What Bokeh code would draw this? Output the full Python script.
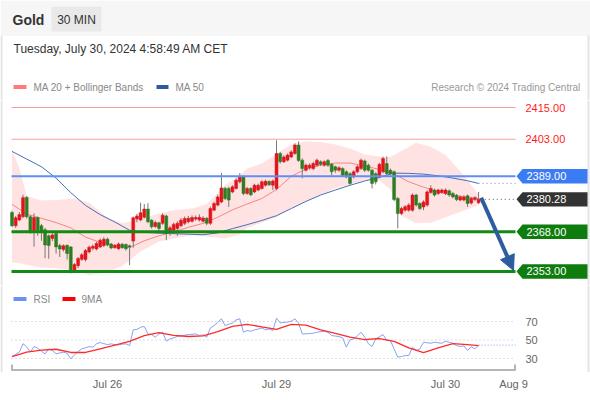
from bokeh.plotting import figure
from bokeh.models import Range1d, FixedTicker, Arrow, NormalHead
from bokeh.layouts import column
from bokeh.embed import file_html
from bokeh.resources import INLINE
from bokeh.core.properties import value

FONT = value("Liberation Sans")

# ---------------- data (30 min candles, Jul 25 -> Jul 30 04:30) ----------------
opens = [2375.3, 2370.3, 2372.5, 2373.7, 2381.0, 2373.7, 2367.8, 2373.4, 2370.3, 2368.8,
         2366.5, 2365.5, 2367.4, 2362.8, 2361.3, 2362.9, 2362.3, 2353.0, 2355.2, 2357.6,
         2357.5, 2360.4, 2361.8, 2361.5, 2362.3, 2362.8, 2365.2, 2363.4, 2362.0, 2361.6,
         2363.3, 2363.2, 2362.7, 2364.5, 2372.8, 2372.5, 2373.5, 2376.6, 2372.4, 2370.0,
         2371.4, 2371.2, 2374.0, 2367.7, 2368.6, 2369.3, 2370.3, 2371.2, 2371.8, 2372.0,
         2372.8, 2372.5, 2372.0, 2373.1, 2371.2, 2376.2, 2378.1, 2379.3, 2384.4, 2384.4,
         2383.1, 2384.4, 2386.9, 2388.8, 2382.5, 2384.4, 2383.1, 2383.8, 2384.4, 2385.6,
         2387.0, 2385.6, 2384.4, 2397.6, 2394.5, 2395.1, 2396.3, 2397.6, 2400.8, 2395.1,
         2391.3, 2392.2, 2391.9, 2393.2, 2394.5, 2393.2, 2395.0, 2393.5, 2392.6, 2391.3,
         2391.9, 2390.7, 2390.0, 2388.8, 2390.7, 2391.9, 2394.8, 2393.2, 2391.3, 2390.0,
         2388.8, 2390.7, 2393.8, 2391.3, 2390.7, 2380.6, 2374.9, 2376.2, 2376.2, 2376.2,
         2381.9, 2378.7, 2377.4, 2378.1, 2382.9, 2383.8, 2382.5, 2382.9, 2382.5, 2383.5,
         2382.5, 2381.8, 2380.0, 2380.0, 2381.6, 2378.9, 2380.2, 2379.0]
highs = [2376.0, 2374.0, 2375.5, 2382.0, 2381.5, 2374.3, 2375.0, 2373.8, 2371.0, 2369.5,
         2367.0, 2367.5, 2367.8, 2363.5, 2363.3, 2363.2, 2362.6, 2356.2, 2358.5, 2360.0,
         2361.5, 2362.8, 2363.2, 2364.2, 2365.5, 2366.0, 2365.8, 2363.8, 2363.4, 2364.0,
         2363.8, 2363.6, 2363.2, 2373.8, 2374.8, 2379.0, 2378.5, 2378.8, 2372.8, 2372.2,
         2371.8, 2375.0, 2374.5, 2370.2, 2371.5, 2372.0, 2373.2, 2373.8, 2374.0, 2374.2,
         2374.2, 2374.6, 2373.9, 2373.6, 2377.5, 2379.4, 2382.0, 2390.3, 2385.0, 2385.0,
         2385.6, 2388.2, 2390.2, 2389.2, 2385.0, 2384.9, 2386.2, 2386.2, 2387.5, 2387.7,
         2387.5, 2387.8, 2402.6, 2398.2, 2396.9, 2397.6, 2398.8, 2401.5, 2402.2, 2395.8,
         2393.8, 2393.9, 2394.5, 2395.7, 2395.0, 2395.0, 2395.5, 2394.0, 2393.0, 2392.8,
         2392.4, 2391.2, 2390.5, 2391.3, 2393.2, 2395.7, 2395.3, 2393.8, 2391.8, 2390.5,
         2394.1, 2396.4, 2396.5, 2391.9, 2391.2, 2381.2, 2377.5, 2378.1, 2378.8, 2382.5,
         2382.4, 2379.2, 2379.9, 2383.7, 2385.6, 2384.3, 2384.3, 2384.4, 2384.4, 2384.0,
         2383.1, 2382.3, 2381.8, 2381.8, 2382.1, 2381.2, 2381.5, 2383.1]
lows = [2369.8, 2369.5, 2372.0, 2373.2, 2373.0, 2367.3, 2362.4, 2366.5, 2364.6, 2358.0,
        2357.8, 2364.5, 2359.8, 2358.5, 2360.5, 2357.5, 2352.3, 2352.4, 2354.3, 2357.0,
        2356.8, 2359.8, 2361.0, 2361.0, 2361.9, 2362.2, 2362.5, 2361.4, 2361.6, 2361.2,
        2361.6, 2360.9, 2355.4, 2362.0, 2371.6, 2372.0, 2373.0, 2371.3, 2369.2, 2369.5,
        2367.6, 2370.6, 2364.8, 2366.5, 2367.2, 2366.5, 2369.8, 2370.5, 2371.2, 2371.5,
        2372.2, 2371.9, 2371.5, 2370.5, 2370.6, 2375.8, 2377.6, 2378.8, 2380.0, 2377.4,
        2382.6, 2384.0, 2386.3, 2381.8, 2382.0, 2381.5, 2382.6, 2383.3, 2384.0, 2385.1,
        2385.3, 2383.8, 2383.7, 2393.8, 2394.0, 2394.6, 2395.8, 2397.1, 2394.4, 2388.2,
        2390.8, 2391.5, 2391.3, 2392.6, 2392.9, 2392.6, 2392.5, 2389.4, 2390.3, 2390.7,
        2388.8, 2388.2, 2385.8, 2388.2, 2390.1, 2391.4, 2390.6, 2390.7, 2384.4, 2385.9,
        2388.2, 2390.1, 2389.4, 2389.4, 2379.6, 2369.3, 2374.3, 2375.6, 2375.6, 2375.6,
        2377.5, 2376.2, 2376.2, 2377.5, 2382.4, 2381.3, 2381.9, 2382.4, 2381.9, 2381.3,
        2380.6, 2379.6, 2379.5, 2379.5, 2377.4, 2378.3, 2379.6, 2378.5]
closes = [2370.3, 2373.3, 2374.5, 2380.9, 2373.7, 2367.8, 2373.4, 2368.6, 2367.9, 2363.0,
          2362.8, 2366.8, 2362.3, 2361.5, 2362.7, 2359.8, 2352.6, 2355.6, 2357.9, 2359.3,
          2360.9, 2362.2, 2362.5, 2363.6, 2364.8, 2365.2, 2363.0, 2361.9, 2362.9, 2363.4,
          2362.0, 2361.6, 2362.3, 2373.3, 2374.0, 2375.2, 2376.6, 2371.8, 2369.9, 2371.5,
          2369.3, 2374.3, 2367.4, 2369.5, 2370.8, 2371.2, 2372.4, 2373.0, 2373.1, 2373.4,
          2373.4, 2373.5, 2373.2, 2371.2, 2376.8, 2378.7, 2381.2, 2384.6, 2380.6, 2380.0,
          2385.0, 2387.5, 2388.8, 2382.5, 2384.4, 2382.0, 2385.6, 2385.6, 2386.9, 2387.1,
          2385.8, 2387.2, 2397.6, 2394.5, 2396.3, 2397.0, 2398.2, 2400.8, 2395.0, 2391.9,
          2393.2, 2393.2, 2393.8, 2395.1, 2393.5, 2394.5, 2393.2, 2390.7, 2391.3, 2392.2,
          2389.4, 2388.8, 2386.3, 2390.7, 2392.6, 2395.1, 2391.3, 2391.3, 2386.3, 2386.9,
          2393.5, 2395.7, 2390.0, 2390.0, 2380.2, 2374.9, 2376.8, 2377.5, 2378.1, 2381.9,
          2378.1, 2376.8, 2379.3, 2383.1, 2384.4, 2381.9, 2383.8, 2383.8, 2383.8, 2381.9,
          2381.2, 2380.2, 2381.2, 2381.2, 2378.7, 2380.6, 2380.9, 2380.28]

ma_idx = [0, 4, 8, 12, 16, 20, 24, 28, 32, 36, 40, 44, 48, 52, 56, 60, 64, 68, 72, 76,
          80, 84, 88, 92, 96, 100, 104, 108, 112, 116, 120, 124, 127]
ma20 = [2378.4, 2374.7, 2373.1, 2371.5, 2369.5, 2366.0, 2364.0, 2362.7, 2362.0, 2364.6,
        2366.5, 2368.0, 2369.7, 2371.2, 2373.5, 2376.3, 2378.5, 2380.6, 2384.0, 2389.0,
        2391.7, 2393.2, 2394.0, 2394.0, 2392.9, 2391.6, 2389.9, 2386.9, 2384.9, 2383.1,
        2381.9, 2381.0, 2380.6]
ma50 = [2398.4, 2395.5, 2392.6, 2388.3, 2382.8, 2378.0, 2374.5, 2371.7, 2368.6, 2367.8,
        2367.5, 2367.3, 2367.1, 2366.9, 2367.6, 2369.2, 2370.7, 2372.3, 2374.1, 2376.8,
        2379.5, 2381.9, 2383.8, 2385.6, 2387.2, 2388.6, 2390.2, 2390.1, 2389.8, 2389.2,
        2388.3, 2387.3, 2386.3]

bb_idx = [0, 2, 4, 8, 12, 17, 21, 26, 30, 35, 40, 44, 49, 53, 58, 62, 64, 68, 72, 76,
          80, 84, 88, 92, 96, 100, 103, 106, 110, 114, 118, 121, 124, 127]
bb_upper = [2399.0, 2392.0, 2381.5, 2379.8, 2380.0, 2380.6, 2379.0, 2373.3, 2371.2, 2372.8,
            2374.9, 2376.2, 2376.8, 2378.5, 2385.6, 2389.2, 2391.9, 2393.8, 2397.5, 2401.0,
            2402.2, 2402.0, 2401.0, 2399.5, 2397.2, 2396.5, 2396.3, 2398.6, 2401.7, 2400.2,
            2397.0, 2392.5, 2387.5, 2382.0]
bb_lower = [2356.4, 2356.2, 2355.5, 2354.5, 2354.2, 2353.4, 2351.6, 2352.8, 2355.0, 2360.6,
            2364.3, 2365.5, 2366.7, 2366.2, 2365.5, 2367.0, 2369.5, 2371.5, 2373.5, 2377.0,
            2379.5, 2382.0, 2384.5, 2386.0, 2387.5, 2387.5, 2384.0, 2374.0, 2371.3, 2371.4,
            2373.5, 2375.0, 2376.5, 2378.0]

rsi = [32.1, 34.5, 37.0, 46.0, 42.5, 37.0, 42.9, 41.0, 38.0, 35.0,
       40.4, 38.6, 35.0, 36.0, 36.8, 35.7, 29.6, 34.0, 37.5, 40.4,
       41.5, 42.9, 42.2, 45.8, 47.3, 46.0, 45.1, 45.8, 45.0, 44.7,
       45.5, 45.8, 44.0, 61.0, 61.5, 63.8, 64.6, 56.6, 55.9, 53.0,
       56.6, 58.4, 48.7, 51.2, 52.3, 53.8, 54.5, 55.2, 55.9, 56.2,
       56.6, 54.8, 55.6, 53.0, 63.1, 65.6, 69.0, 72.9, 65.6, 67.0,
       68.2, 71.8, 72.9, 58.4, 60.2, 59.5, 61.0, 61.8, 63.1, 61.0,
       62.0, 60.2, 73.6, 68.5, 69.0, 69.3, 70.3, 72.9, 68.2, 56.6,
       56.6, 57.0, 57.3, 58.4, 59.0, 59.5, 58.4, 54.8, 54.3, 53.8,
       52.3, 42.2, 50.2, 51.2, 54.5, 58.4, 53.0, 46.0, 42.9, 51.2,
       53.5, 55.9, 49.4, 49.4, 40.4, 31.4, 32.1, 33.2, 33.2, 42.2,
       38.6, 40.4, 47.6, 47.0, 46.5, 47.6, 47.0, 46.5, 48.7, 47.5,
       46.5, 44.0, 42.9, 43.7, 38.6, 42.9, 40.4, 44.5]
rsi_ma9 = [32.1, 36.8, 39.0, 40.0, 36.5, 36.5, 40.5, 44.5, 48.5, 54.8,
           58.0, 55.0, 53.8, 54.5, 59.0, 64.8, 67.0, 64.2, 61.5, 66.8,
           66.0, 61.0, 57.2, 53.0, 50.5, 51.6, 48.5, 41.4, 36.3, 41.5,
           46.0, 45.1, 44.0]

red_levels = [2415.0, 2403.0]
resistance = 2389.0
last_price = closes[-1]
supports = [2368.0, 2353.0]
target = 2353.0

tick_pos = [26, 72, 118, 136.5]
tick_labels = ["Jul 26", "Jul 29", "Jul 30", "Aug 9"]
rsi_levels = [30, 50, 70]

# ---------------- geometry helpers (page pixels) ----------------
X0, PXI = 11.5, 3.674                      # x of candle 0, pixels per candle
Y_TOP, P_TOP, PXP = 107.0, 2415.0, 2.645   # price scale


def ix(xp):
    return (xp - X0) / PXI


def pr(yp):
    return P_TOP - (yp - Y_TOP) / PXP


def rs(yp):
    return 70 - (yp - 321) / 0.925


W = 590
C_RED, C_GREEN = "#e3141c", "#2f7d22"
BORDER = "#e4e4e4"


def base(height, xr, yr, **kw):
    f = figure(width=W, height=height, x_range=xr, y_range=yr, toolbar_location=None,
               output_backend="svg", min_border_left=0, min_border_right=0,
               outline_line_color=None, **kw)
    return f


# ---------------- header (page y 0..100) ----------------
h = base(100, Range1d(0, 590), Range1d(100, 0), x_axis_type=None, y_axis_type=None,
         min_border_top=0, min_border_bottom=0)
h.quad(left=[0], right=[590], top=[0], bottom=[35.5], fill_color="#f6f6f6", line_color=None)
h.quad(left=[51], right=[101], top=[6], bottom=[31], fill_color="#e9e9e9", line_color=None)
h.segment(x0=[1, 588], x1=[1, 588], y0=[35, 35], y1=[100, 100], line_color=BORDER, line_width=2)
h.text(x=[12], y=[19], text=["Gold"], text_font=FONT, text_font_size="14px",
       text_font_style="bold", text_color="#333333", text_baseline="middle")
h.text(x=[76], y=[19], text=["30 MIN"], text_font=FONT, text_font_size="12px",
       text_color="#333333", text_baseline="middle", text_align="center")
h.text(x=[13], y=[48], text=["Tuesday, July 30, 2024 4:58:49 AM CET"], text_font=FONT,
       text_font_size="12px", text_color="#333333", text_baseline="middle")
h.quad(left=[13, 156], right=[26, 168], top=[84.5, 84.5], bottom=[88.5, 88.5],
       fill_color=["#ff7b7b", "#2d5ba3"], line_color=None)
h.text(x=[33, 175], y=[86.5, 86.5], text=["MA 20 + Bollinger Bands", "MA 50"], text_font=FONT,
       text_font_size="10px", text_color="#888888", text_baseline="middle")
h.text(x=[580], y=[86.5], text=["Research \u00a9 2024 Trading Central"], text_font=FONT,
       text_font_size="10px", text_color="#999999", text_baseline="middle", text_align="right")

# ---------------- main price chart (page y 100..285) ----------------
p = base(185, Range1d(ix(0), ix(590)), Range1d(pr(285), pr(100)), x_axis_type=None,
         y_axis_type=None, min_border_top=0, min_border_bottom=0)
p.segment(x0=[ix(1), ix(588)], x1=[ix(1), ix(588)], y0=[pr(100)] * 2, y1=[pr(285)] * 2,
          line_color=BORDER, line_width=2)

p.varea(x=bb_idx, y1=bb_lower, y2=bb_upper, fill_color="#ffe3e3", fill_alpha=1.0)
p.line(ma_idx, ma20, line_color="#f58585", line_width=1)
p.line(ma_idx, ma50, line_color="#4670b8", line_width=1)

n = len(closes)
xs = list(range(n))
cols = [C_RED if c >= o else C_GREEN for o, c in zip(opens, closes)]
p.segment(x0=xs, x1=xs, y0=lows, y1=highs, line_color="#777777", line_width=1)
p.vbar(x=xs, width=0.8, top=[max(o, c) for o, c in zip(opens, closes)],
       bottom=[min(o, c) for o, c in zip(opens, closes)], fill_color=cols, line_color=cols,
       line_width=0.5)

xl, xr = ix(11), ix(515)
p.segment(x0=[xl, xl], x1=[xr, xr], y0=red_levels, y1=red_levels, line_color="#f4a0a0", line_width=1)
p.segment(x0=[xl], x1=[xr], y0=[resistance], y1=[resistance], line_color="#5f8ff6", line_width=2)
p.segment(x0=[xl, xl], x1=[xr, xr], y0=supports, y1=supports, line_color="#138a13", line_width=3)

# dotted leaders to the labels
p.segment(x0=[n - 0.4], x1=[ix(516)], y0=[last_price], y1=[last_price],
          line_color="#555555", line_width=1, line_dash="1 3")
p.segment(x0=[ma_idx[-1]], x1=[ix(516)], y0=[ma50[-1]], y1=[ma50[-1]],
          line_color="#7d92c4", line_width=1, line_dash="1 3")

p.text(x=[ix(525)] * 2, y=red_levels, text=["%.2f" % v for v in red_levels], text_font=FONT,
       text_font_size="11px", text_color="#ff1a1a", text_baseline="middle")

box_levels = [resistance, last_price] + supports
box_cols = ["#3b7cf4", "#333333", "#0e7d0e", "#0e7d0e"]
hh = 7.2 / PXP
tip, bl, br = ix(516), ix(522), ix(587)
p.patches(xs=[[tip, bl, br, br, bl] for _ in box_levels],
          ys=[[v, v + hh, v + hh, v - hh, v - hh] for v in box_levels],
          fill_color=box_cols, line_color=None)
p.text(x=[ix(526)] * 4, y=box_levels, text=["%.2f" % v for v in box_levels], text_font=FONT,
       text_font_size="11px", text_color="white", text_baseline="middle")

ac = "#2d5d9f"
p.add_layout(Arrow(end=NormalHead(size=15, fill_color=ac, line_color=ac),
                   x_start=n - 0.3, y_start=last_price + 0.6, x_end=ix(513), y_end=target + 0.4,
                   line_color=ac, line_width=4))

# ---------------- RSI panel (page y 285..399) ----------------
r = base(114, Range1d(ix(0), ix(590)), Range1d(rs(372), rs(285)), y_axis_type=None,
         min_border_top=0, min_border_bottom=27)
r.xgrid.visible = False
r.ygrid.visible = False

r.xaxis.ticker = FixedTicker(ticks=tick_pos)
r.xaxis.major_label_overrides = {k: v for k, v in zip(tick_pos, tick_labels)}
r.xaxis.axis_line_color = None
r.xaxis.major_tick_line_color = None
r.xaxis.minor_tick_line_color = None
r.xaxis.major_tick_out = 0
r.xaxis.major_tick_in = 0
r.xaxis.minor_tick_out = 0
r.xaxis.major_label_standoff = 5
r.xaxis.major_label_text_font = "Liberation Sans"
r.xaxis.major_label_text_font_size = "11px"
r.xaxis.major_label_text_color = "#666666"

r.segment(x0=[ix(1), ix(588)], x1=[ix(1), ix(588)], y0=[rs(285)] * 2, y1=[rs(372)] * 2,
          line_color=BORDER, line_width=2)

gl, gr = ix(11), ix(515)
r.segment(x0=[gl] * 3, x1=[gr] * 3, y0=rsi_levels, y1=rsi_levels,
          line_color="#bdbdbd", line_width=1, line_dash="1 3")
r.text(x=[ix(525)] * 3, y=rsi_levels, text=[str(v) for v in rsi_levels], text_font=FONT,
       text_font_size="11px", text_color="#666666", text_baseline="middle")

# axis line with end ticks
r.segment(x0=[gl], x1=[gr], y0=[rs(369.5)], y1=[rs(369.5)], line_color="#b5b5b5", line_width=2)
r.segment(x0=[ix(11.5), ix(514.5)], x1=[ix(11.5), ix(514.5)], y0=[rs(370)] * 2, y1=[rs(364)] * 2,
          line_color="#b5b5b5", line_width=2)

r.line(list(range(len(rsi))), rsi, line_color="#86a2f2", line_width=1)
r.line(ma_idx, rsi_ma9, line_color="#ff2b2b", line_width=1.3)
r.segment(x0=[len(rsi) - 1], x1=[ix(515)], y0=[rsi[-1]], y1=[rsi[-1]],
          line_color="#9fb5f5", line_width=1.2, line_dash="1 2")

ly = rs(298.5)
lh = 2.0 / 0.925
r.quad(left=[ix(13), ix(62)], right=[ix(26), ix(75)], top=[ly + lh] * 2, bottom=[ly - lh] * 2,
       fill_color=["#6e8ff0", "#ff0000"], line_color=None)
r.text(x=[ix(33), ix(81)], y=[ly, ly], text=["RSI", "9MA"], text_font=FONT, text_font_size="10px",
       text_color="#888888", text_baseline="middle")

layout = column(h, p, r, spacing=0)
open("out.html", "w").write(file_html(layout, INLINE))
